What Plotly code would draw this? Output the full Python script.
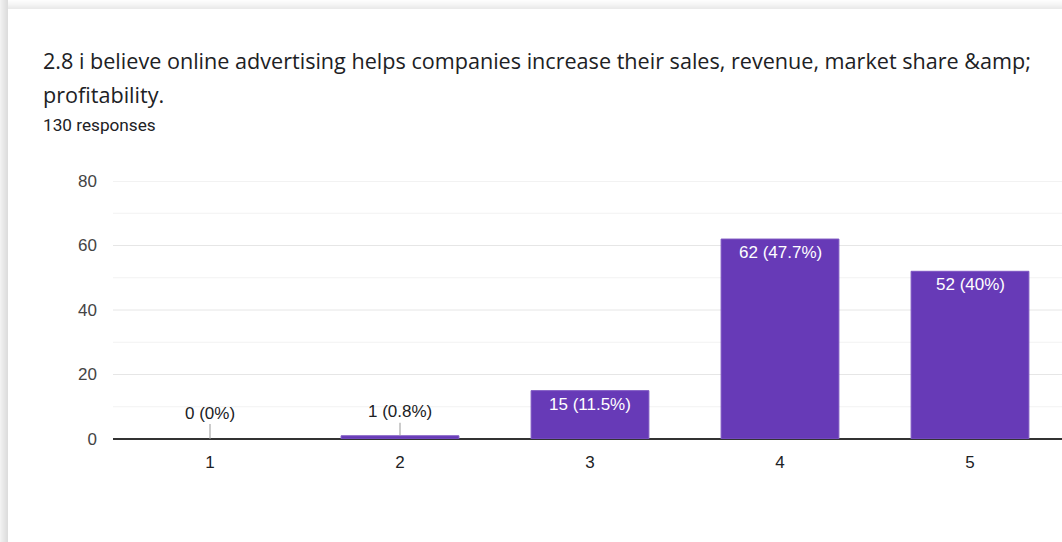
import plotly.graph_objects as go

# Survey answer counts on a 1-5 agreement scale
categories = [1, 2, 3, 4, 5]
counts = [0, 1, 15, 62, 52]
total_responses = 130

question = "2.8 i believe online advertising helps companies increase their sales, revenue, market share &amp;amp;"
question_cont = "profitability."
y_ticks = [0, 20, 40, 60, 80]
y_minor = [10, 30, 50, 70]

W, H = 1062, 542
ML, MR, MT, MB = 113, 0, 181, 103
PW, PH = W - ML - MR, H - MT - MB

BAR = "#673ab7"
TXT = "#202124"
AXIS_FONT = "Liberation Sans, Arial, sans-serif"
HEAD_FONT = "Open Sans, Roboto, sans-serif"


def px(x):
    return (x - ML) / PW


def py(y):
    return (H - MB - y) / PH


def pct(v):
    p = round(v / total_responses * 100, 1)
    return f"{p:g}%"


labels = [f"{v} ({pct(v)})" for v in counts]

fig = go.Figure(
    go.Bar(
        x=categories,
        y=counts,
        width=0.62,
        marker=dict(color=BAR, line=dict(color="#7e57c2", width=[0 if v == 0 else 1 for v in counts])),
        hoverinfo="skip",
    )
)

annotations = []
for c, v, lab in zip(categories, counts, labels):
    if v >= 10:
        annotations.append(dict(
            x=c, y=v, xref="x", yref="y", text=lab, showarrow=False,
            yanchor="top", yshift=-2,
            font=dict(family=AXIS_FONT, size=17, color="white"),
        ))
    else:
        annotations.append(dict(
            x=c, y=v, xref="x", yref="y", text=lab, showarrow=True,
            arrowhead=0, arrowwidth=1, arrowcolor="#999999",
            ax=0, ay=-26 + 2 * v, standoff=0,
            font=dict(family=AXIS_FONT, size=17, color=TXT),
        ))

# Heading block
annotations += [
    dict(x=px(41), y=py(60), xref="paper", yref="paper", text=question,
         showarrow=False, xanchor="left", yanchor="middle",
         font=dict(family=HEAD_FONT, size=21.6, color=TXT)),
    dict(x=px(41), y=py(94), xref="paper", yref="paper", text=question_cont,
         showarrow=False, xanchor="left", yanchor="middle",
         font=dict(family=HEAD_FONT, size=21.6, color=TXT)),
    dict(x=px(41), y=py(125), xref="paper", yref="paper", text="130 responses",
         showarrow=False, xanchor="left", yanchor="middle",
         font=dict(family="Roboto, sans-serif", size=17.2, color=TXT)),
]

shapes = []
# Major and minor horizontal gridlines
for v in y_ticks[1:]:
    shapes.append(dict(type="line", xref="paper", yref="y", layer="below",
                       x0=0, x1=1, y0=v, y1=v, line=dict(color="#e6e6e6", width=1)))
for v in y_minor:
    shapes.append(dict(type="line", xref="paper", yref="y", layer="below",
                       x0=0, x1=1, y0=v, y1=v, line=dict(color="#f2f2f2", width=1)))

# Card shadow along the left and top edges
left_cols = ["#f2f2f2", "#eeeeee", "#ebebeb", "#e8e8e8", "#e5e5e5", "#e2e2e2", "#dfdfdf", "#dddddd"]
for i, col in enumerate(left_cols):
    shapes.append(dict(type="rect", xref="paper", yref="paper", layer="below",
                       x0=px(i), x1=px(i + 1), y0=py(H), y1=py(0),
                       fillcolor=col, line=dict(width=0)))
top_cols = ["#fdfdfd", "#fbfbfb", "#f9f9f9", "#f7f7f7", "#f5f5f5", "#f2f2f2", "#efefef", "#ececec", "#eaeaea"]
for i, col in enumerate(top_cols):
    shapes.append(dict(type="rect", xref="paper", yref="paper", layer="below",
                       x0=px(8), x1=px(W), y0=py(i + 1), y1=py(i),
                       fillcolor=col, line=dict(width=0)))

fig.update_layout(
    width=W, height=H,
    margin=dict(l=ML, r=MR, t=MT, b=MB, pad=0),
    paper_bgcolor="white", plot_bgcolor="white",
    showlegend=False,
    annotations=annotations,
    shapes=shapes,
    xaxis=dict(
        range=[1 - 97 / 190, 1 + (W - 210) / 190],
        tickvals=categories, ticktext=[str(c) for c in categories],
        showgrid=False, zeroline=False, showline=False, ticks="",
        ticklabelstandoff=11,
        tickfont=dict(family=AXIS_FONT, size=17, color=TXT),
        fixedrange=True,
    ),
    yaxis=dict(
        range=[0, 80], tickvals=y_ticks,
        showgrid=False,
        zeroline=True, zerolinecolor="#333333", zerolinewidth=2,
        showline=False, ticks="",
        ticklabelstandoff=15,
        tickfont=dict(family=AXIS_FONT, size=17, color="#444444"),
        fixedrange=True,
    ),
)

fig.write_html("out.html", config={"displayModeBar": False})
